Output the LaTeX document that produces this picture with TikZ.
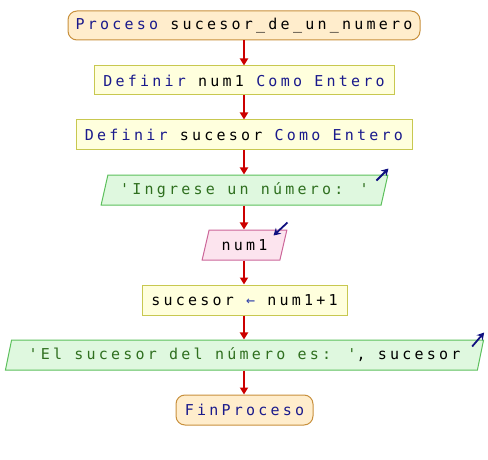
\documentclass[tikz,border=0pt]{standalone}
\usepackage{fontspec}
\usetikzlibrary{shapes.geometric,arrows.meta,calc}
\newfontfamily\codefont{DejaVu Sans Mono}[LetterSpace=21.5]

\definecolor{termfill}{HTML}{FFEDCC}
\definecolor{termdraw}{HTML}{C8903C}
\definecolor{procfill}{HTML}{FFFFDD}
\definecolor{procdraw}{HTML}{C8C850}
\definecolor{outfill}{HTML}{DFF8DF}
\definecolor{outdraw}{HTML}{5CC05C}
\definecolor{infill}{HTML}{FCE4EE}
\definecolor{indraw}{HTML}{CC6699}
\definecolor{flowred}{HTML}{CC0000}
\definecolor{kw}{HTML}{1A1A8C}
\definecolor{str}{HTML}{2F6F1F}
\definecolor{iconblue}{HTML}{101080}
\definecolor{opblue}{HTML}{3344AA}

\tikzset{
  base/.style={inner sep=0pt, line width=1pt, minimum height=30pt,
    font=\codefont\fontsize{15}{18}\selectfont, text=black},
  term/.style={base, rectangle, rounded corners=9pt, draw=termdraw, fill=termfill},
  proc/.style={base, rectangle, draw=procdraw, fill=procfill},
  para/.style={base, trapezium, trapezium left angle=68, trapezium right angle=112,
    trapezium stretches=true},
  outbox/.style={para, draw=outdraw, fill=outfill},
  inbox/.style={para, draw=indraw, fill=infill},
  flow/.style={draw=flowred, line width=2pt, -{Triangle[length=7pt,width=8pt]}},
  io/.style={draw=iconblue, line width=1.8pt, -{Stealth[length=7pt,width=8pt]}}
}

\begin{document}
\begin{tikzpicture}[x=1pt, y=-1pt]
  \useasboundingbox (0,0) rectangle (488,460);

  \node[term, minimum width=352pt, minimum height=29pt] (start) at (244,25.5)
    {\textcolor{kw}{Proceso} sucesor\_de\_un\_numero};
  \node[proc, minimum width=300pt, minimum height=29pt] (def1) at (244,80.5)
    {\textcolor{kw}{Definir} num1 \textcolor{kw}{Como} \textcolor{kw}{Entero}};
  \node[proc, minimum width=336pt] (def2) at (244,135)
    {\textcolor{kw}{Definir} sucesor \textcolor{kw}{Como} \textcolor{kw}{Entero}};
  \node[outbox, minimum width=287pt] (ask) at (244.5,190)
    {\textcolor{str}{'Ingrese un número: '}};
  \node[inbox, minimum width=85pt] (read) at (244.5,245) {num1};
  \node[proc, minimum width=205pt] (assign) at (244.5,300)
    {sucesor \textcolor{opblue}{←} num1+1};
  \node[outbox, minimum width=481pt] (show) at (244.5,355)
    {\textcolor{str}{'El sucesor del número es: '}, sucesor};
  \node[term, minimum width=137pt] (stop) at (244.5,410)
    {\textcolor{kw}{FinProceso}};

  % control flow
  \draw[flow] (start.south -| 244,0) -- (def1.north -| 244,0);
  \draw[flow] (def1.south -| 244,0) -- (def2.north -| 244,0);
  \draw[flow] (def2.south -| 244,0) -- (ask.north -| 244,0);
  \draw[flow] (ask.south -| 244,0) -- (read.north -| 244,0);
  \draw[flow] (read.south -| 244,0) -- (assign.north -| 244,0);
  \draw[flow] (assign.south -| 244,0) -- (show.north -| 244,0);
  \draw[flow] (show.south -| 244,0) -- (stop.north -| 244,0);

  % input / output markers: outward for output, inward for input
  \coordinate (askA) at ($(ask.top right corner)+(-12,6)$);
  \coordinate (askB) at ($(ask.top right corner)+(0,-6)$);
  \draw[io] (askA) -- (askB);
  \coordinate (readA) at ($(read.top right corner)+(0,-7)$);
  \coordinate (readB) at ($(read.top right corner)+(-14,6)$);
  \draw[io] (readA) -- (readB);
  \coordinate (showA) at ($(show.top right corner)+(-12,7)$);
  \coordinate (showB) at ($(show.top right corner)+(0,-7)$);
  \draw[io] (showA) -- (showB);
\end{tikzpicture}
\end{document}
